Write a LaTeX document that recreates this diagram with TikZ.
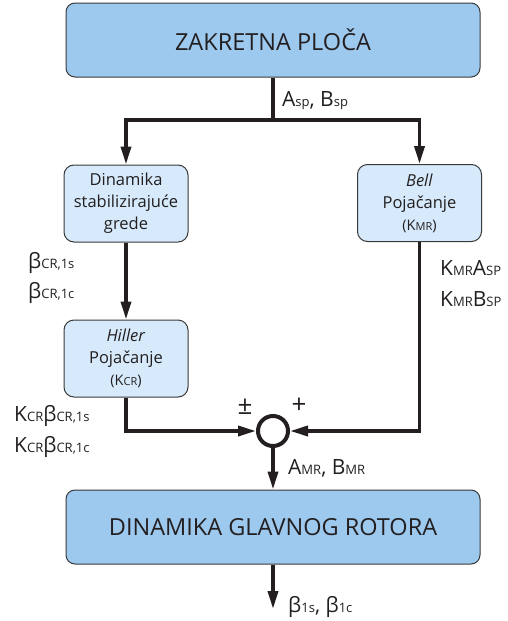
\documentclass[tikz,border=0pt]{standalone}
\usepackage{fontspec}
\setmainfont{Open Sans}
\usetikzlibrary{arrows.meta}
\definecolor{bigblue}{HTML}{9DC9EF}
\definecolor{smallblue}{HTML}{D6EAFB}
\definecolor{edgegray}{HTML}{3A3A3A}
\definecolor{inkgray}{HTML}{231F20}
\newcommand{\sbs}[1]{{\fontsize{13}{13}\selectfont #1}}
\newcommand{\tinysbs}[1]{{\fontsize{11}{11}\selectfont #1}}
\tikzset{
	bigbox/.style = {
		draw=edgegray, line width=1pt, fill=bigblue, rounded corners=9pt,
		minimum width=414pt, minimum height=74pt, text=inkgray,
		font=\fontsize{23.5}{26}\selectfont,
	},
	smallbox/.style = {
		draw=edgegray, line width=1pt, fill=smallblue, rounded corners=10pt,
		minimum width=124pt, minimum height=77pt, align=center, text=inkgray,
		font=\fontsize{16.5}{22}\selectfont, inner sep=0pt,
	},
	conn/.style = {
		line width=3.5pt, inkgray,
		-{Triangle[length=18pt, width=10pt]},
	},
	lbl/.style = {
		anchor=west, inner sep=0pt, text=inkgray, font=\fontsize{21}{21}\selectfont,
	},
}

\begin{document}
\begin{tikzpicture}[x=1pt, y=-1pt]
	\useasboundingbox (0, 0) rectangle (508, 621);
	\node[bigbox] (plate) at (273, 40) {ZAKRETNA PLOČA};
	\node[smallbox] (dyn) at (126, 203.5) {Dinamika\\stabilizirajuće\\grede};
	\node[smallbox] (bell) at (419.5, 203) {\textit{Bell}\\Pojačanje\\{\fontsize{14.5}{14.5}\selectfont(K\tinysbs{MR})}};
	\node[smallbox] (hill) at (126, 358.5) {\textit{Hiller}\\Pojačanje\\{\fontsize{14.5}{14.5}\selectfont(K\tinysbs{CR})}};
	\node[draw=inkgray, circle, line width=4pt, minimum size=30pt, inner sep=0pt] (sum) at (273, 431) {};
	\node[bigbox] (rotor) at (273, 527) {DINAMIKA GLAVNOG ROTORA};
	\coordinate (split) at (273, 120);
	\coordinate (out) at (273, 609);
	\draw[conn, -] (plate) -- (split);
	\draw[conn] (split) -| (dyn.north);
	\draw[conn] (split) -| (bell.north);
	\draw[conn] (dyn) -- (hill);
	\draw[conn] (hill.south) |- (sum.west);
	\draw[conn] (bell.south) |- (sum.east);
	\draw[conn] (sum) -- (rotor);
	\draw[conn] (rotor) -- (out);
	\node[lbl] (ab) at (282, 101) {A\sbs{sp}, B\sbs{sp}};
	\node[lbl] (beta1) at (28, 263) {β\sbs{CR,1s}};
	\node[lbl] (beta2) at (28, 293) {β\sbs{CR,1c}};
	\node[lbl] (kmr1) at (440, 268) {K\sbs{MR}A\sbs{SP}};
	\node[lbl] (kmr2) at (440, 299) {K\sbs{MR}B\sbs{SP}};
	\node[lbl] (kcr1) at (14, 416) {K\sbs{CR}β\sbs{CR,1s}};
	\node[lbl] (kcr2) at (14, 447) {K\sbs{CR}β\sbs{CR,1c}};
	\node[lbl, anchor=center, font=\fontsize{26}{26}\selectfont] (pm) at (245, 407) {±};
	\node[lbl, anchor=center, font=\fontsize{26}{26}\selectfont] (plus) at (299, 406) {+};
	\node[lbl] (amr) at (288, 468) {A\sbs{MR}, B\sbs{MR}};
	\node[lbl] (beta3) at (288, 607) {β\sbs{1s}, β\sbs{1c}};
\end{tikzpicture}
\end{document}
